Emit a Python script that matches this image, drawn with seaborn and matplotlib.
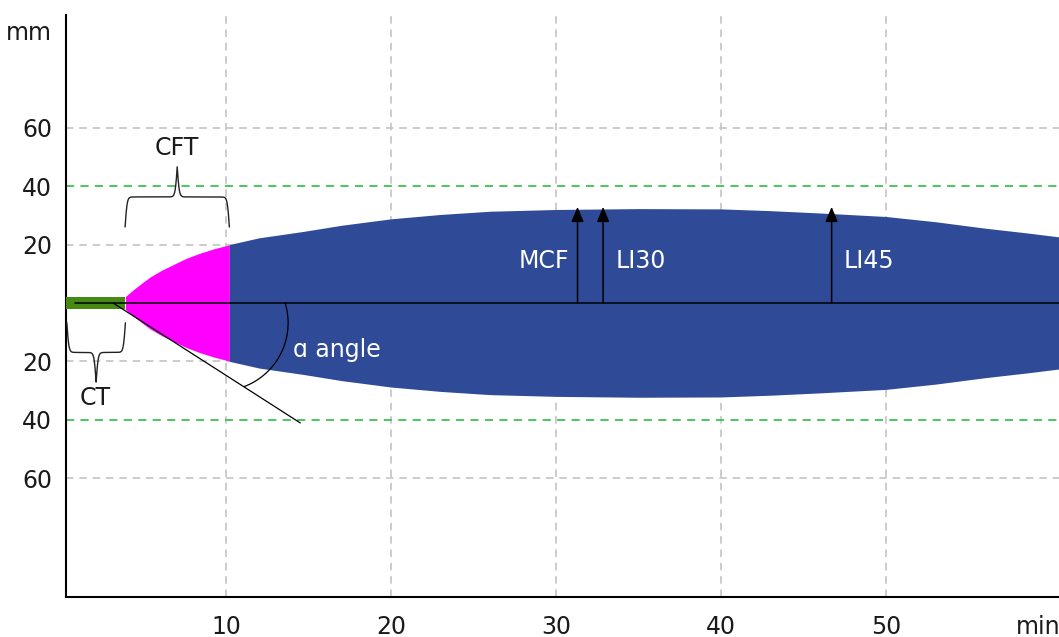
import numpy as np
import matplotlib
matplotlib.use("Agg")
import matplotlib.pyplot as plt
import seaborn as sns

# ROTEM trace values (mm)
ct_end = 3.9
ct_half_width = 2.2
cft_time = [3.9, 4.4, 4.9, 5.4, 6.1, 6.9, 7.6, 8.4, 9.3, 10.2]
cft_amp = [2.2, 4.6, 6.8, 8.9, 11.2, 13.4, 15.3, 17.0, 18.6, 19.9]
main_time = [10.2, 12, 14.7, 17, 20, 23, 26, 30, 35, 40, 43, 46, 50, 53, 56, 58.5, 60.5]
main_amp = [20.0, 22.3, 24.5, 26.6, 28.8, 30.3, 31.4, 32.0, 32.3, 32.2, 31.6, 30.8, 29.6, 27.8, 25.6, 24.0, 22.6]

marker_labels = ["MCF", "LI30", "LI45"]
marker_time = [31.3, 32.85, 46.7]
marker_amp = 32.9

x_ticks = [10, 20, 30, 40, 50]
y_ticks = [60, 40, 20, -20, -40, -60]
y_labels = ["60", "40", "20", "20", "40", "60"]
gray_grid_y = [60, 20, -20, -60]
green_grid_y = [40, -40]

# alpha angle tangent
tangent_t = [3.15, 14.5]
tangent_amp = [0, -41.1]

sns.set_style("white")
plt.rcParams["font.family"] = ["DejaVu Sans"]

BLUE = "#2f4a97"
MAGENTA = "#ff00ff"
GREEN = "#468a14"
TXT = "#1a1a1a"
FS = 17

fig = plt.figure(figsize=(10.59, 6.37), dpi=100)
ax = fig.add_axes([66 / 1059, 40 / 637, (1059 - 66) / 1059, (597 - 15) / 637])
ax.set_xlim(0.3, 60.48)
ax.set_ylim(-100.7, 98.6)

# grid
dash = (0, (4.5, 3.5))
for x in x_ticks:
    ax.axvline(x, color="#c4c4c4", lw=1.2, ls=dash, zorder=0)
for y in gray_grid_y:
    ax.axhline(y, color="#c4c4c4", lw=1.2, ls=dash, zorder=0)
for y in green_grid_y:
    ax.axhline(y, color="#3ec24f", lw=1.3, ls=dash, zorder=0)

# trace
ax.fill_between([0, ct_end], -ct_half_width, ct_half_width, color=GREEN, lw=0, zorder=3)
ax.fill_between(cft_time, -np.array(cft_amp), cft_amp, color=MAGENTA, lw=0, zorder=2)
ax.fill_between(main_time, -np.array(main_amp), main_amp, color=BLUE, lw=0, zorder=2)

ax.axhline(0, xmin=(0.85 - 0.3) / (60.48 - 0.3), color="black", lw=1.1, zorder=4)

# alpha angle
sns.lineplot(x=tangent_t, y=tangent_amp, color="black", lw=0.9, ax=ax, zorder=4)
th = np.radians(np.linspace(-69, 17, 100))
ax.plot(9.64 + 4.12 * np.cos(th), -6.85 + 23.3 * np.sin(th), color="black", lw=0.9, zorder=4)
ax.text(14.06, -16.1, "\u0251 angle", color="white", fontsize=FS, ha="left", va="center", zorder=6)

# MCF / LI arrows
for t in marker_time:
    ax.annotate("", xy=(t, marker_amp), xytext=(t, 0),
                arrowprops=dict(arrowstyle="-|>,head_length=0.6,head_width=0.25",
                                mutation_scale=15, color="black", lw=1.1,
                                shrinkA=0, shrinkB=0), zorder=5)
ax.text(marker_time[0] - 0.5, 14.4, marker_labels[0], color="white", fontsize=FS, ha="right", va="center", zorder=6)
ax.text(marker_time[1] + 0.75, 14.4, marker_labels[1], color="white", fontsize=FS, ha="left", va="center", zorder=6)
ax.text(marker_time[2] + 0.7, 14.4, marker_labels[2], color="white", fontsize=FS, ha="left", va="center", zorder=6)


def curly_brace(ax, x0, x1, y_end, y_tip, beta=16):
    n = 601
    xs = np.linspace(x0, x1, n)
    half = xs[: n // 2 + 1]
    s = 1 / (1 + np.exp(-beta * (half - half[0]))) + 1 / (1 + np.exp(-beta * (half - half[-1])))
    s = np.concatenate([s, s[-2::-1]])
    ys = y_end + (s - 0.5) * (y_tip - y_end)
    ax.plot(xs, ys, color="#222222", lw=1.0, zorder=4, clip_on=False)


curly_brace(ax, 3.88, 10.2, 26.0, 46.6)
ax.text(7.0, 53, "CFT", color=TXT, fontsize=FS, ha="center", va="center")
curly_brace(ax, 0.35, 3.9, -6.8, -27.1)
ax.text(2.05, -32.5, "CT", color=TXT, fontsize=FS, ha="center", va="center")

# axes
ax.set_xticks(x_ticks)
ax.set_yticks(y_ticks)
ax.set_yticklabels(y_labels)
ax.tick_params(axis="both", length=0, labelsize=FS, colors=TXT)
ax.tick_params(axis="y", pad=10)
ax.tick_params(axis="x", pad=13)
ax.grid(False)
for side in ["top", "right"]:
    ax.spines[side].set_visible(False)
for side in ["left", "bottom"]:
    ax.spines[side].set_color("black")
    ax.spines[side].set_linewidth(1.5)

ax.annotate("mm", xy=(0, 92.5), xycoords=("axes fraction", "data"), xytext=(-10, 0),
            textcoords="offset points", ha="right", va="center", fontsize=FS, color=TXT)
ax.annotate("min", xy=(59.2, 0), xycoords=("data", "axes fraction"), xytext=(0, -13),
            textcoords="offset points", ha="center", va="top", fontsize=FS, color=TXT)

fig.savefig("out.png", dpi=100)
